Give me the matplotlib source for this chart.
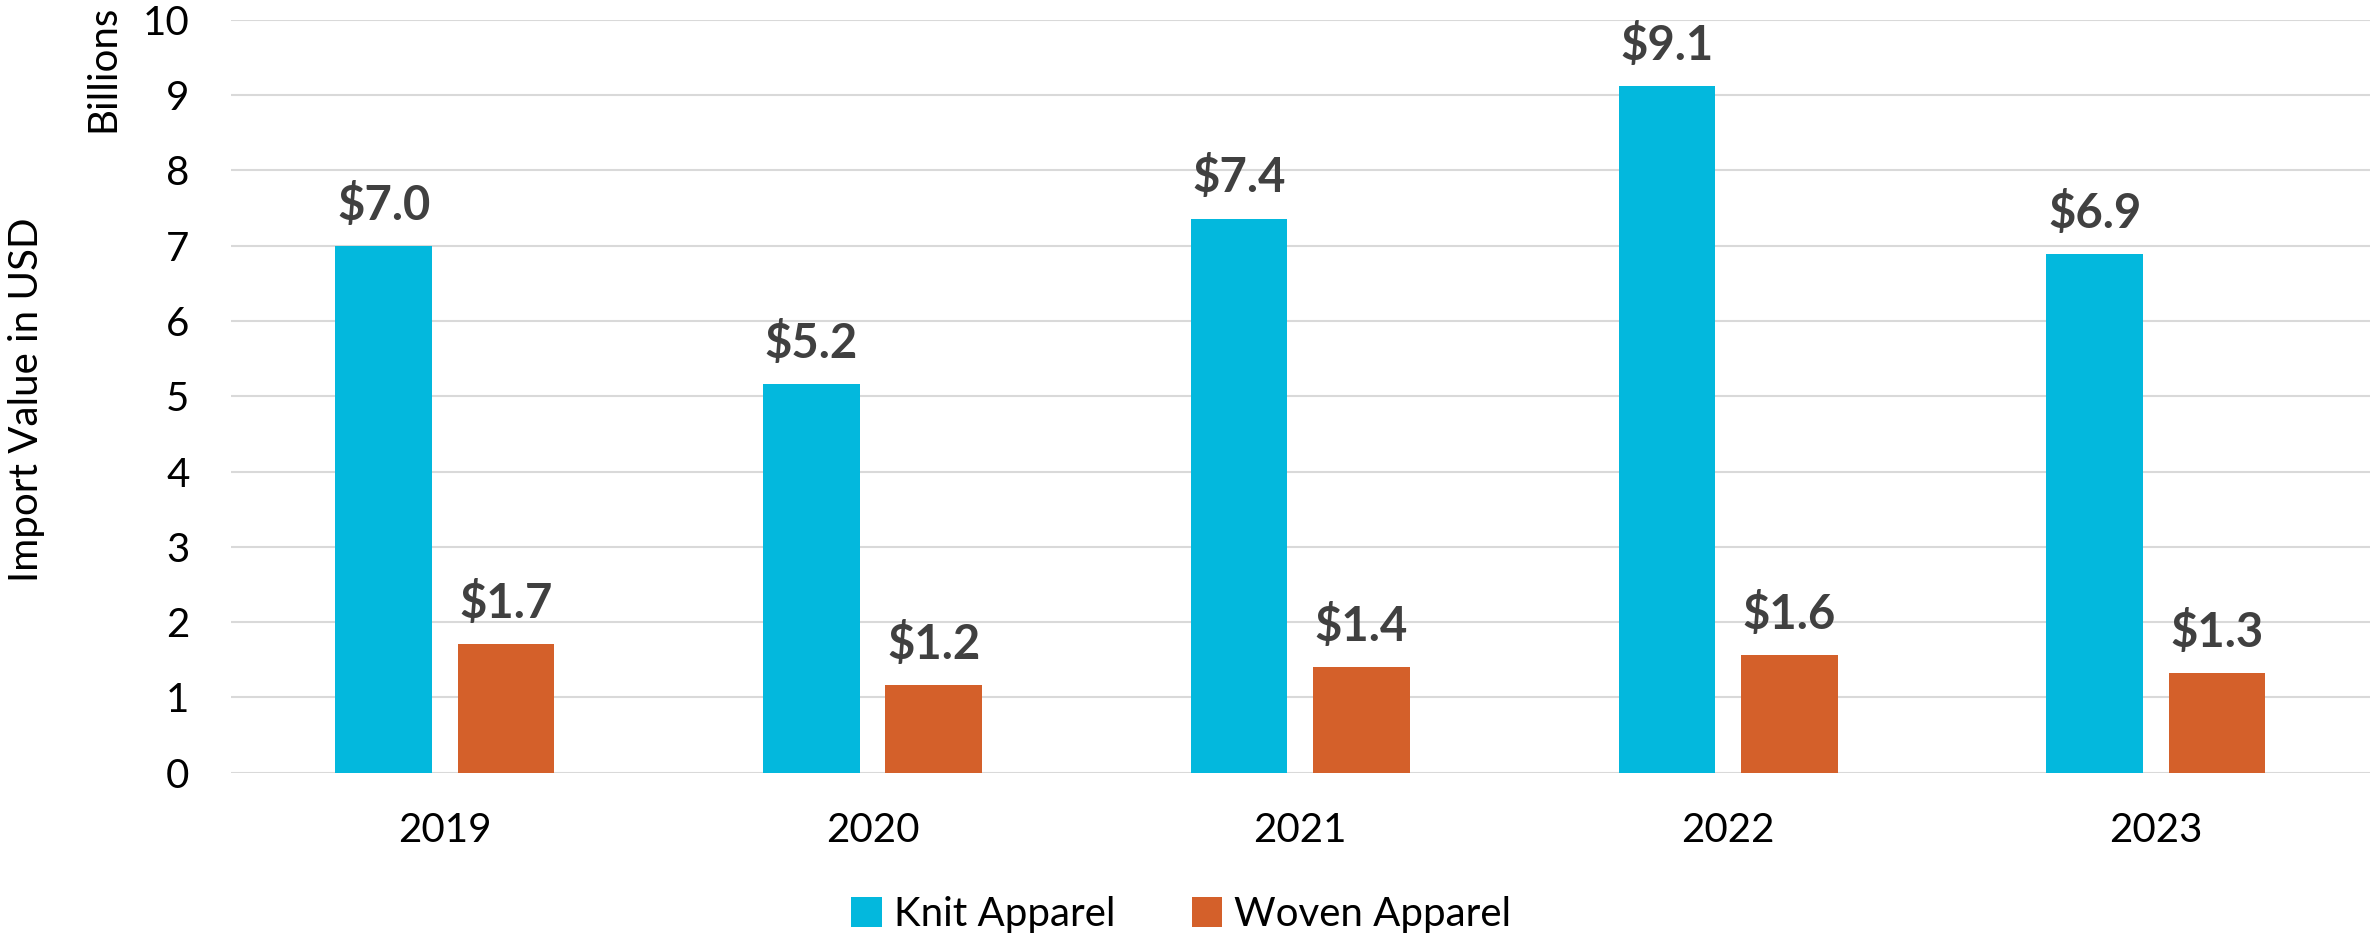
import numpy as np
import matplotlib.pyplot as plt

# Data
years = ['2019', '2020', '2021', '2022', '2023']
knit = [7.0, 5.16, 7.36, 9.12, 6.89]
woven = [1.71, 1.16, 1.41, 1.57, 1.33]
knit_labels = ['$7.0', '$5.2', '$7.4', '$9.1', '$6.9']
woven_labels = ['$1.7', '$1.2', '$1.4', '$1.6', '$1.3']

knit_color = '#03B8DD'
woven_color = '#D4602A'
grid_color = '#D9D9D9'

plt.rcParams['font.family'] = ['Lato', 'DejaVu Sans']

fig = plt.figure(figsize=(23.72, 9.39), dpi=100)
ax = fig.add_axes([0.0974, 0.177, 0.9016, 0.802])

x = np.arange(len(years))
w = 0.226
off = 0.143

b1 = ax.bar(x - off, knit, w, color=knit_color, label='Knit Apparel', zorder=3)
b2 = ax.bar(x + off, woven, w, color=woven_color, label='Woven Apparel', zorder=3)

# value labels
for bars, labs in ((b1, knit_labels), (b2, woven_labels)):
    for r, t in zip(bars, labs):
        ax.annotate(t, (r.get_x() + r.get_width() / 2, r.get_height()),
                    xytext=(0, 13), textcoords='offset points',
                    ha='center', va='bottom', fontsize=34, fontweight='bold',
                    color='#404040')

ax.set_xlim(-0.5, 4.5)
ax.set_ylim(0, 10)
ax.set_yticks(range(0, 11))
ax.set_xticks(x)
ax.set_xticklabels(years)
ax.tick_params(axis='both', length=0, labelsize=29, colors='black')
ax.tick_params(axis='y', pad=30)
ax.tick_params(axis='x', pad=28)

ax.grid(axis='y', color=grid_color, linewidth=1.5, zorder=0)
for s in ax.spines.values():
    s.set_visible(False)

fig.text(0.011, 0.574, 'Import Value in USD', rotation=90, ha='center', va='center',
         fontsize=29)
fig.text(0.0435, 0.995, 'Billions', rotation=90, ha='center', va='top', fontsize=29)

fig.legend(loc='center', bbox_to_anchor=(0.498, 0.026), ncol=2, frameon=False,
           fontsize=29, handlelength=0.75, handleheight=0.75, handletextpad=0.3,
           columnspacing=1.9)

fig.savefig('out.png', dpi=100)
